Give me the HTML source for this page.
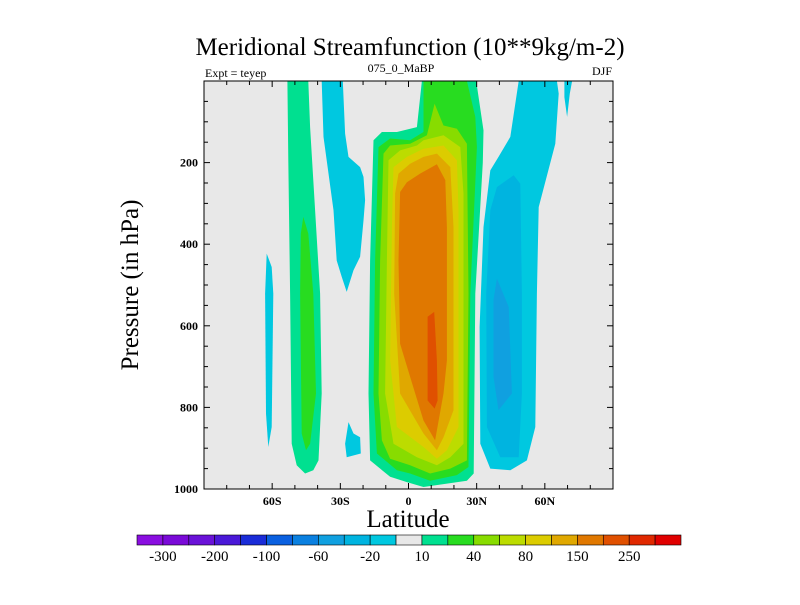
<!DOCTYPE html>
<html><head><meta charset="utf-8"><style>
body{margin:0;background:#fff}
svg text{font-family:"Liberation Serif",serif}
</style></head><body>
<svg id="chart" width="800" height="600" xmlns="http://www.w3.org/2000/svg">
<text x="410" y="55" font-size="25" text-anchor="middle">Meridional Streamfunction (10**9kg/m-2)</text>
<text x="205" y="77" font-size="12">Expt = teyep</text>
<text x="401" y="72" font-size="12" text-anchor="middle">075_0_MaBP</text>
<text x="612" y="75" font-size="12" text-anchor="end">DJF</text>
<defs><clipPath id="clip"><rect x="204" y="81" width="409" height="408"/></clipPath></defs>
<rect x="204" y="81" width="409" height="408" fill="#e8e8e8"/>
<g id="contours" clip-path="url(#clip)"></g>
<rect x="204" y="81" width="409" height="408" fill="none" stroke="#000" stroke-width="1"/>
<g id="axes"></g>
<text x="408" y="527" font-size="25" text-anchor="middle">Latitude</text>
<text transform="translate(138,285) rotate(-90)" font-size="25" text-anchor="middle">Pressure (in hPa)</text>
<g id="colorbar"></g>
</svg>
<script>
const levelColors=["#8a0ee0","#7a0ad8","#6a12d8","#4a18d8","#1a2cd8","#0a60e0","#0a80e0","#10a0e0","#00b4e0","#00c8e0","#e8e8e8","#00e090","#28dc20","#88dc00","#bcdc00","#dccc00","#e0a800","#e07800","#e05000","#e02800","#e00000"];
const levelLabels=["-300","-200","-100","-60","-20","10","40","80","150","250"];
const xTickVals=[-60,-30,0,30,60];
const xTickLabels=["60S","30S","0","30N","60N"];
const yTickVals=[200,400,600,800,1000];
// contour regions: [colorIndex, lat/pressure points]
const regionColors=[9,9,9,9,9,8,7,11,12,11,12,13,14,15,16,17,18];
const regionNames=["neg10-right","neg10-right-sliver","neg10-left","neg10-left-blob","neg10-far-left","neg20-right","neg40-right","pos10-left","pos20-left","pos10-center","pos20-center","pos40-center","pos60-center","pos80-center","pos100-center","pos150-center","pos200-center"];
const regionPoints=[
[[48.5,0],[65.3,0],[66.1,31],[64.6,154],[57.3,309],[56.5,521],[55.8,848],[52.1,930],[44.8,954],[36,950],[31.6,889],[31.3,603],[33,358],[36,219],[39.6,186],[44.8,137]],
[[68.6,0],[72,0],[71,31],[69.8,88],[68.6,40]],
[[-38.2,0],[-28.9,0],[-27.9,129],[-26.4,186],[-21.3,211],[-19.8,235],[-19.1,292],[-19.8,342],[-21.3,431],[-24.2,464],[-27.2,517],[-29.4,480],[-31.6,440],[-33,317],[-37.4,137]],
[[-26.4,836],[-24.2,864],[-21.3,873],[-21,913],[-27.2,922],[-27.9,889]],
[[-62.4,423],[-60.2,456],[-59.5,521],[-60.2,848],[-61.7,897],[-62.7,815],[-63.1,521]],
[[38.9,260],[46.3,231],[49.2,252],[49.9,521],[49.9,766],[48.5,922],[40.4,922],[34.5,848],[34.2,521],[36,317]],
[[38.9,484],[44.1,554],[45.5,766],[39.6,807],[37.4,725],[37.4,537]],
[[-53.3,0],[-44.1,0],[-43.3,113],[-41.1,317],[-38.9,521],[-38.2,766],[-39.6,930],[-41.9,954],[-45.5,962],[-49.2,942],[-51.4,889],[-52.1,521],[-52.9,194]],
[[-46.3,333],[-44.1,374],[-41.9,521],[-40.7,766],[-43.3,889],[-45.1,905],[-47,864],[-47.7,521],[-47.4,374]],
[[5.9,0],[29.8,0],[33,121],[32.7,200],[29.4,521],[28.7,962],[25.7,980],[6.6,995],[-0.7,983],[-8.1,970],[-16.9,930],[-17.6,766],[-16.9,440],[-15.4,145],[-11.7,125],[-5.1,125],[3.7,113]],
[[6.6,0],[25.7,0],[29.4,88],[30.1,162],[27.2,521],[26.4,946],[21.3,966],[9.5,980],[0.7,962],[-5.1,954],[-13.9,913],[-15.4,766],[-14.7,440],[-13.2,162],[-8.1,141],[0.7,145],[6.6,125]],
[[11.5,56],[15.4,109],[21.3,117],[25.7,154],[26.4,521],[25.7,930],[18.4,950],[9.5,962],[0.7,942],[-8.1,926],[-11.7,881],[-13.2,766],[-12.5,440],[-11,178],[-8.1,158],[0.7,154],[8.1,133]],
[[6.6,145],[15.4,133],[22.8,162],[24.2,276],[24.2,889],[18.4,922],[12.5,942],[3.7,922],[-6.6,889],[-10.3,766],[-9.5,440],[-8.8,194],[-3.7,170],[3.7,158]],
[[6.6,166],[15.4,158],[21.3,194],[22,317],[22,848],[16.9,905],[12.5,926],[6.6,897],[-5.1,848],[-8.1,685],[-7.3,358],[-6.6,211],[-0.7,186]],
[[6.6,186],[12.5,178],[18.4,211],[19.8,358],[19.8,807],[15.4,873],[12.5,905],[6.6,864],[-3.7,766],[-6.3,521],[-5.9,276],[-4.4,227],[0.7,203]],
[[5.1,227],[12.5,204],[16.2,243],[16.9,358],[16.9,685],[15.4,766],[11.7,881],[6.6,832],[0.7,725],[-3.7,644],[-4.4,440],[-3.7,272],[-0.7,248]],
[[8.4,578],[11.3,566],[12.5,685],[12.8,783],[11.5,803],[8.4,783],[8.4,685]]
];
const NS="http://www.w3.org/2000/svg";
const X0=204,X1=613,Y0=81,Y1=489;
const xs=lat=>X0+(lat+90)/180*(X1-X0);
const ys=p=>Y0+p/1000*(Y1-Y0);
function mk(tag,attrs,parent){const e=document.createElementNS(NS,tag);for(const k in attrs)e.setAttribute(k,attrs[k]);parent.appendChild(e);return e;}
const cg=document.getElementById('contours');
regionPoints.forEach((pts,i)=>{
  const pth=mk('polygon',{points:pts.map(q=>xs(q[0]).toFixed(1)+','+ys(q[1]).toFixed(1)).join(' '),fill:levelColors[regionColors[i]]},cg);
  
  
});
const ax=document.getElementById('axes');
for(let lat=-80;lat<=80;lat+=10){
  const major=xTickVals.includes(lat);const len=major?6:4;
  mk('line',{x1:xs(lat),x2:xs(lat),y1:Y1,y2:Y1-len,stroke:'#000'},ax);
  mk('line',{x1:xs(lat),x2:xs(lat),y1:Y0,y2:Y0+len,stroke:'#000'},ax);
}
xTickVals.forEach((v,i)=>{
  const t=mk('text',{x:xs(v),y:Y1+16,'font-size':12,'font-weight':'bold','text-anchor':'middle'},ax);t.textContent=xTickLabels[i];
  
  
});
for(let p=50;p<1000;p+=50){
  const major=yTickVals.includes(p);const len=major?6:4;
  mk('line',{x1:X0,x2:X0+len,y1:ys(p),y2:ys(p),stroke:'#000'},ax);
  mk('line',{x1:X1,x2:X1-len,y1:ys(p),y2:ys(p),stroke:'#000'},ax);
}
yTickVals.forEach(v=>{
  const t=mk('text',{x:X0-6,y:ys(v)+4,'font-size':12,'font-weight':'bold','text-anchor':'end'},ax);t.textContent=v;
  
  
});
const cb=document.getElementById('colorbar');
const cbX=137,cbW=544,cbY=535,cbH=10,bw=cbW/levelColors.length;
levelColors.forEach((c,i)=>{
  const r=mk('rect',{x:cbX+i*bw,y:cbY,width:bw,height:cbH,fill:c,stroke:'#000','stroke-width':0.6},cb);
  
  
});
levelLabels.forEach((l,i)=>{
  const t=mk('text',{x:cbX+(1+2*i)*bw,y:cbY+cbH+16,'font-size':15,'text-anchor':'middle'},cb);t.textContent=l;
  
  
});
</script>
</body></html>
